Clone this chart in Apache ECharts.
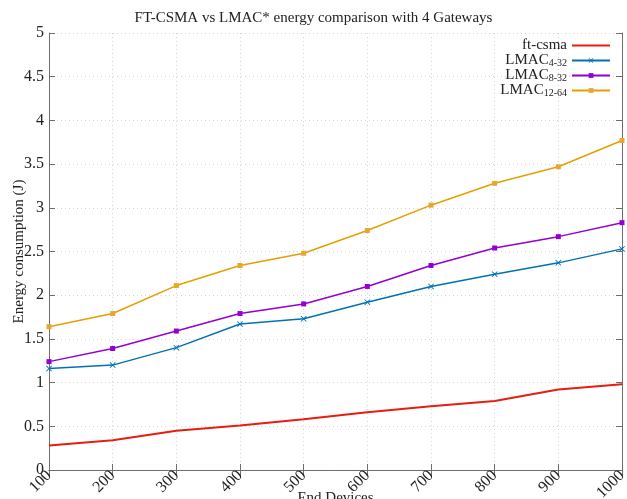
<!DOCTYPE html>
<html>
<head>
<meta charset="utf-8">
<script src="https://cdn.jsdelivr.net/npm/echarts@6/dist/echarts.min.js"></script>
<style>
  html, body { margin: 0; padding: 0; background: #fff; }
  #chart { width: 627px; height: 499px; }
</style>
</head>
<body>
<div id="chart"></div>
<script>
// Number of end devices on the x axis
const endDevices = [100, 200, 300, 400, 500, 600, 700, 800, 900, 1000];

// Energy consumption (J) per protocol
const ftCsma   = [0.28, 0.34, 0.45, 0.51, 0.58, 0.66, 0.73, 0.79, 0.92, 0.98];
const lmac4_32 = [1.16, 1.20, 1.40, 1.67, 1.73, 1.92, 2.10, 2.24, 2.37, 2.53];
const lmac8_32 = [1.24, 1.39, 1.59, 1.79, 1.90, 2.10, 2.34, 2.54, 2.67, 2.83];
const lmac12_64 = [1.64, 1.79, 2.11, 2.34, 2.48, 2.74, 3.03, 3.28, 3.47, 3.77];

// Legend entries: base text + subscript
const seriesNames = ['ft-csma', 'LMAC4-32', 'LMAC8-32', 'LMAC12-64'];
const legendBase = ['ft-csma', 'LMAC', 'LMAC', 'LMAC'];
const legendSub = ['', '4-32', '8-32', '12-64'];

const FONT = '"Liberation Serif", "DejaVu Serif", serif';
const AXIS_COLOR = '#6e6e6e';
const TEXT_COLOR = '#222';

function pairs(values) {
  return endDevices.map((x, i) => [x, values[i]]);
}

const crossPath = 'path://M0,1L1,0L5,4L9,0L10,1L6,5L10,9L9,10L5,6L1,10L0,9L4,5Z';
const plainLineIcon = 'path://M0,0L38,0L38,2L0,2Z';

const chart = echarts.init(document.getElementById('chart'), null, { renderer: 'canvas' });

chart.setOption({
  backgroundColor: '#fff',
  animation: false,
  title: {
    text: 'FT-CSMA vs LMAC* energy comparison with 4 Gateways',
    left: 'center',
    top: 6,
    textStyle: { fontFamily: FONT, fontSize: 15, fontWeight: 'normal', color: TEXT_COLOR }
  },
  grid: { left: 49, right: 5, top: 33, bottom: 29, containLabel: false, outerBoundsMode: 'none' },
  legend: {
    orient: 'vertical',
    right: 11,
    top: 33,
    align: 'right',
    itemWidth: 38,
    itemHeight: 6,
    itemGap: 0,
    data: [
      { name: seriesNames[0], icon: plainLineIcon },
      { name: seriesNames[1] },
      { name: seriesNames[2] },
      { name: seriesNames[3] }
    ],
    formatter: function (name) {
      const i = seriesNames.indexOf(name);
      return legendSub[i] ? '{m|' + legendBase[i] + '}{s|' + legendSub[i] + '}' : '{m|' + legendBase[i] + '}';
    },
    textStyle: {
      fontFamily: FONT, fontSize: 15, color: TEXT_COLOR,
      rich: {
        m: { fontFamily: FONT, fontSize: 15, color: TEXT_COLOR, lineHeight: 15, verticalAlign: 'bottom' },
        s: { fontFamily: FONT, fontSize: 10, color: TEXT_COLOR, lineHeight: 10, verticalAlign: 'bottom', padding: [5, 0, 0, 0] }
      }
    }
  },
  xAxis: [
    {
      type: 'value',
      min: 100, max: 1000, interval: 100,
      position: 'bottom',
      name: 'End Devices',
      nameLocation: 'middle',
      nameGap: 21,
      nameMoveOverlap: false,
      nameTextStyle: { fontFamily: FONT, fontSize: 15, color: TEXT_COLOR },
      axisLine: { lineStyle: { color: AXIS_COLOR, width: 1 } },
      axisTick: { inside: true, length: 6, lineStyle: { color: AXIS_COLOR } },
      axisLabel: { rotate: 45, margin: 3, fontFamily: FONT, fontSize: 16, color: TEXT_COLOR, formatter: v => String(v) },
      splitLine: { show: true, lineStyle: { color: '#d4d4d4', type: [1, 3], width: 1 } }
    },
    {
      type: 'value',
      min: 100, max: 1000, interval: 100,
      position: 'top',
      axisLine: { show: true, lineStyle: { color: AXIS_COLOR, width: 1 } },
      axisTick: { inside: true, length: 6, lineStyle: { color: AXIS_COLOR } },
      axisLabel: { show: false },
      splitLine: { show: false }
    }
  ],
  yAxis: [
    {
      type: 'value',
      min: 0, max: 5, interval: 0.5,
      position: 'left',
      name: 'Energy consumption (J)',
      nameLocation: 'middle',
      nameGap: 22,
      nameMoveOverlap: false,
      nameTextStyle: { fontFamily: FONT, fontSize: 15, color: TEXT_COLOR },
      axisLine: { show: true, lineStyle: { color: AXIS_COLOR, width: 1 } },
      axisTick: { show: true, inside: true, length: 6, lineStyle: { color: AXIS_COLOR } },
      axisLabel: { margin: 5, fontFamily: FONT, fontSize: 16, color: TEXT_COLOR },
      splitLine: { show: true, lineStyle: { color: '#d4d4d4', type: [1, 3], width: 1 } }
    },
    {
      type: 'value',
      min: 0, max: 5, interval: 0.5,
      position: 'right',
      axisLine: { show: true, lineStyle: { color: AXIS_COLOR, width: 1 } },
      axisTick: { show: true, inside: true, length: 6, lineStyle: { color: AXIS_COLOR } },
      axisLabel: { show: false },
      splitLine: { show: false }
    }
  ],
  series: [
    {
      name: seriesNames[0], type: 'line', data: pairs(ftCsma),
      symbol: 'none',
      lineStyle: { color: '#e51e10', width: 2 },
      itemStyle: { color: '#e51e10' }
    },
    {
      name: seriesNames[1], type: 'line', data: pairs(lmac4_32),
      symbol: crossPath, symbolSize: 6, showAllSymbol: true,
      lineStyle: { color: '#0072b2', width: 1.5 },
      itemStyle: { color: '#0072b2' }
    },
    {
      name: seriesNames[2], type: 'line', data: pairs(lmac8_32),
      symbol: 'rect', symbolSize: 5, showAllSymbol: true,
      lineStyle: { color: '#9400d3', width: 1.5 },
      itemStyle: { color: '#9400d3' }
    },
    {
      name: seriesNames[3], type: 'line', data: pairs(lmac12_64),
      symbol: 'rect', symbolSize: 5, showAllSymbol: true,
      lineStyle: { color: '#e69f00', width: 1.5 },
      itemStyle: { color: '#e6a630' }
    }
  ]
});
</script>
</body>
</html>
